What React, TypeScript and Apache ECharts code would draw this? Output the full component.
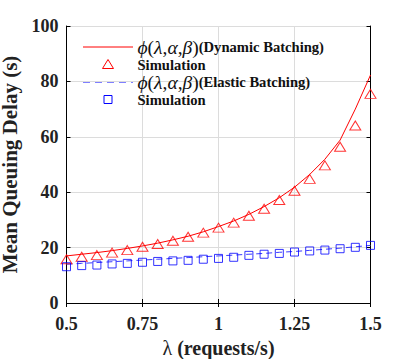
import React, { useEffect, useRef } from "react";
import * as echarts from "echarts";

const lambdaSim = [0.5, 0.55, 0.6, 0.65, 0.7, 0.75, 0.8, 0.85, 0.9, 0.95, 1.0, 1.05, 1.1, 1.15, 1.2, 1.25, 1.3, 1.35, 1.4, 1.45, 1.5];
const dynamicSim = [15.8, 16.7, 17.3, 18.2, 19.1, 20.3, 21.3, 22.5, 23.9, 25.4, 27.2, 29.0, 31.5, 34.0, 37.2, 40.5, 44.8, 49.7, 56.4, 64.1, 75.5];
const elasticSim = [13.1, 13.5, 13.7, 14.1, 14.3, 14.7, 15.0, 15.2, 15.4, 15.8, 16.1, 16.5, 17.2, 17.6, 17.9, 18.4, 18.8, 19.1, 19.6, 20.1, 20.8];

const lambdaCurve = [0.5, 0.55, 0.6, 0.65, 0.7, 0.75, 0.8, 0.85, 0.9, 0.95, 1.0, 1.05, 1.1, 1.15, 1.2, 1.25, 1.3, 1.35, 1.4, 1.45, 1.5];
const dynamicCurve = [17.0, 17.6, 18.2, 18.9, 19.7, 20.6, 21.6, 22.8, 24.1, 25.7, 27.6, 29.6, 32.0, 34.8, 38.0, 41.8, 46.4, 51.9, 58.8, 70.0, 82.3];
const elasticCurve = [14.0, 14.3, 14.6, 14.9, 15.2, 15.5, 15.8, 16.1, 16.4, 16.7, 17.0, 17.3, 17.6, 17.9, 18.3, 18.6, 19.0, 19.4, 19.8, 20.3, 20.8];

const xTicks = { min: 0.5, max: 1.5, interval: 0.25 };
const yTicks = { min: 0, max: 100, interval: 20 };

const mathLabel = "{g|\u03d5}{p|(}{g|\u03bb}{p|,}{g|\u03b1}{p|,}{g|\u03b2}{p|)}";
const legendLabels = [
  mathLabel + "(Dynamic Batching)",
  "Simulation",
  mathLabel + "(Elastic Batching)",
  "Simulation",
];

const FONT = "Liberation Serif";

export default function App() {
  const ref = useRef<HTMLDivElement>(null);
  useEffect(() => {
    if (!ref.current) return;
    const chart = echarts.init(ref.current, undefined, { renderer: "svg" });
    const pairs = (xs: number[], ys: number[]) => xs.map((x, i) => [x, ys[i]]);
    const gridLine = { show: true, lineStyle: { color: "#dcdcdc", width: 1 } };
    const axisLine = { show: true, lineStyle: { color: "#000", width: 1 } };
    const tick = { show: true, inside: true, length: 4, lineStyle: { color: "#000" } };
    const label = { fontFamily: FONT, fontWeight: "bold" as const, fontSize: 18, color: "#222" };
    const rowY = [47, 64.5, 82, 99.5];
    const textX = 137.5;
    chart.setOption({
      animation: false,
      backgroundColor: "#fff",
      title: legendLabels.map((t, i) => ({
        text: t,
        left: textX,
        top: rowY[i] - 9,
        padding: 0,
        textStyle: {
          fontFamily: FONT,
          fontWeight: "bold",
          fontSize: 14.6,
          color: "#111",
          lineHeight: 18,
          rich: {
            g: { fontFamily: FONT, fontStyle: "italic", fontWeight: "normal", fontSize: 19.5, color: "#111" },
            p: { fontFamily: FONT, fontWeight: "normal", fontSize: 19.5, color: "#111" },
          },
        },
      })),
      grid: { left: 66.5, right: 39.5, top: 26, bottom: 56, containLabel: false, outerBoundsMode: "none" },
      xAxis: [
        {
          type: "value",
          ...xTicks,
          position: "bottom",
          axisLine,
          axisTick: tick,
          splitLine: gridLine,
          axisLabel: { ...label, margin: 12 },
          name: "{l|\u03bb} (requests/s)",
          nameLocation: "middle",
          nameGap: 36,
          nameTextStyle: {
            fontFamily: FONT,
            fontWeight: "bold",
            fontSize: 20,
            color: "#222",
            lineHeight: 18,
            rich: { l: { fontFamily: FONT, fontWeight: "normal", fontSize: 20, color: "#222" } },
          },
        },
        {
          type: "value",
          ...xTicks,
          position: "top",
          axisLine,
          axisTick: tick,
          splitLine: { show: false },
          axisLabel: { show: false },
        },
      ],
      yAxis: [
        {
          type: "value",
          ...yTicks,
          position: "left",
          axisLine,
          axisTick: tick,
          splitLine: gridLine,
          axisLabel: { ...label, margin: 8 },
          name: "Mean Queuing Delay (s)",
          nameLocation: "middle",
          nameGap: 39,
          nameTextStyle: { fontFamily: FONT, fontWeight: "bold", fontSize: 21, color: "#222", lineHeight: 18 },
        },
        {
          type: "value",
          ...yTicks,
          position: "right",
          axisLine,
          axisTick: tick,
          splitLine: { show: false },
          axisLabel: { show: false },
        },
      ],
      series: [
        {
          type: "line",
          data: pairs(lambdaCurve, dynamicCurve),
          symbol: "none",
          smooth: false,
          lineStyle: { color: "#ff0000", width: 1 },
          z: 3,
        },
        {
          type: "scatter",
          data: pairs(lambdaSim, dynamicSim),
          symbol: "triangle",
          symbolSize: [11, 9],
          itemStyle: { color: "rgba(0,0,0,0)", borderColor: "#ff0000", borderWidth: 1 },
          z: 4,
        },
        {
          type: "line",
          data: pairs(lambdaCurve, elasticCurve),
          symbol: "none",
          lineStyle: { color: "#3a3aff", width: 1, type: [6, 4] },
          z: 3,
        },
        {
          type: "scatter",
          data: pairs(lambdaSim, elasticSim),
          symbol: "rect",
          symbolSize: 8,
          itemStyle: { color: "rgba(0,0,0,0)", borderColor: "#0000ff", borderWidth: 1 },
          z: 4,
        },
      ],
      graphic: [
        { type: "line", shape: { x1: 83, y1: rowY[0], x2: 133, y2: rowY[0] }, style: { stroke: "#ff0000", lineWidth: 1 } },
        {
          type: "polygon",
          shape: { points: [[108, rowY[1] - 5], [113.5, rowY[1] + 4], [102.5, rowY[1] + 4]] },
          style: { fill: "none", stroke: "#ff0000", lineWidth: 1 },
        },
        { type: "line", shape: { x1: 83, y1: rowY[2], x2: 133, y2: rowY[2] }, style: { stroke: "#0000ff", lineWidth: 1, lineDash: [7, 5] } },
        {
          type: "rect",
          shape: { x: 104, y: rowY[3] - 4, width: 8, height: 8 },
          style: { fill: "none", stroke: "#0000ff", lineWidth: 1 },
        },
      ],
    });
    return () => chart.dispose();
  }, []);
  return <div ref={ref} style={{ width: 410, height: 359, position: "absolute", left: 0, top: 0 }} />;
}
